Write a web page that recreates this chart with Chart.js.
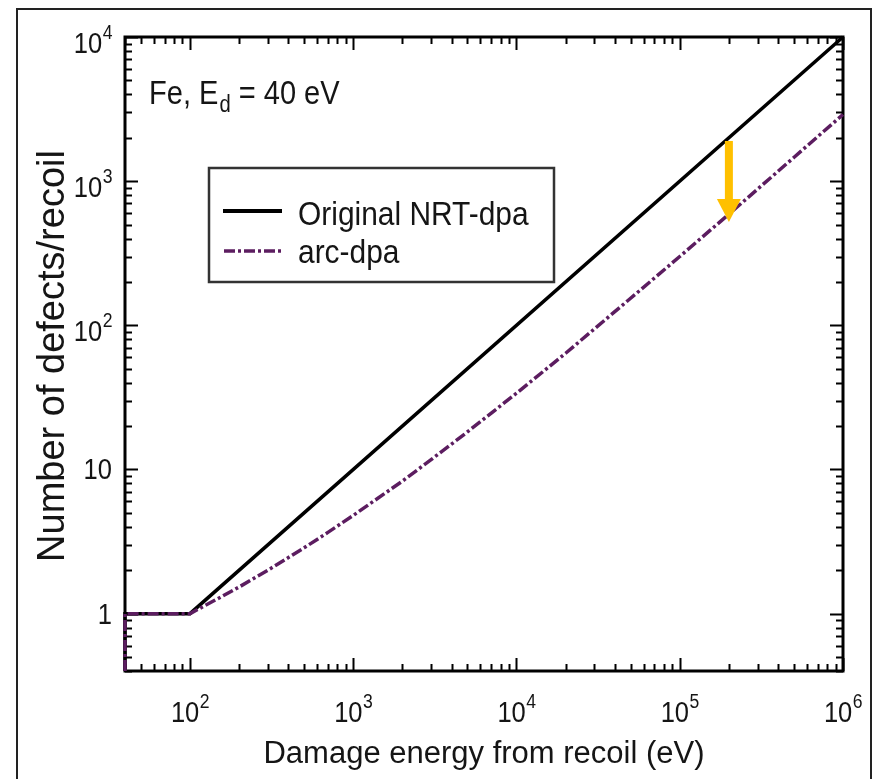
<!DOCTYPE html>
<html>
<head>
<meta charset="utf-8">
<script src="https://cdn.jsdelivr.net/npm/chart.js@4.4.1/dist/chart.umd.min.js"></script>
<style>
  html, body { margin: 0; padding: 0; background: #fff; }
  canvas { display: block; }
</style>
</head>
<body>
<canvas id="dpaChart" width="877" height="779"></canvas>
<script>
// Damage energy (eV) vs defects per recoil
const nrtEnergy = [40, 40, 100, 1e6];
const nrtDefects = [0.4, 1, 1, 10000];

const arcEnergy = [40, 40, 100, 150, 200, 300, 500, 700, 1000, 2000, 3000, 5000, 1e4, 2e4, 5e4, 1e5, 2e5, 5e5, 1e6];
const arcDefects = [0.4, 1, 1, 1.28, 1.53, 2.0, 2.86, 3.66, 4.8, 8.3, 11.7, 18.2, 33.8, 64, 154, 300, 590, 1460, 2900];

// Tick labels, drawn as base + superscript
const xTickValues = [1e2, 1e3, 1e4, 1e5, 1e6];
const xTickBase = ['10', '10', '10', '10', '10'];
const xTickSup = ['2', '3', '4', '5', '6'];
const yTickValues = [1, 10, 100, 1000, 10000];
const yTickBase = ['1', '10', '10', '10', '10'];
const yTickSup = ['', '', '2', '3', '4'];

// Arrow from the NRT line down to arc-dpa
const arrowEnergy = 2e5;
const arrowFrom = 1900;
const arrowTo = 520;

const FONT = "'Liberation Sans', Arial, sans-serif";
const TEXT = '#151515';
const ARC_COLOR = '#5c1d60';
const ARC_DASH = [11, 3, 3, 3];
const SQUEEZE = 0.88;   // narrow lettering used for labels

function toPoints(xs, ys) {
    return xs.map((x, i) => ({ x: x, y: ys[i] }));
}

// Horizontally squeezed text; returns drawn width
function squeezedText(ctx, text, x, y, size) {
    ctx.font = size + 'px ' + FONT;
    const w = ctx.measureText(text).width * SQUEEZE;
    ctx.save();
    ctx.translate(x, y);
    ctx.scale(SQUEEZE, 1);
    ctx.textAlign = 'left';
    ctx.textBaseline = 'alphabetic';
    ctx.fillText(text, 0, 0);
    ctx.restore();
    return w;
}

function textWidth(ctx, text, size) {
    ctx.font = size + 'px ' + FONT;
    return ctx.measureText(text).width * SQUEEZE;
}

// Label like 10^3 with a raised exponent
function drawPowerLabel(ctx, base, sup, x, baseline, align) {
    const wb = textWidth(ctx, base, 29);
    const ws = sup ? textWidth(ctx, sup, 20) : 0;
    const total = wb + ws;
    const start = align === 'right' ? x - total : x - total / 2;
    ctx.fillStyle = TEXT;
    squeezedText(ctx, base, start, baseline, 29);
    if (sup) squeezedText(ctx, sup, start + wb + 0.5, baseline - 14, 20);
}

// Frame and inward ticks on all four sides
const axesFrame = {
    id: 'axesFrame',
    beforeDatasetsDraw(chart) {
        const { ctx, chartArea: a, scales } = chart;
        const xs = scales.x, ys = scales.y;
        ctx.save();

        // outer border of the figure
        ctx.strokeStyle = '#222';
        ctx.lineWidth = 2;
        ctx.strokeRect(17, 9, 854, 820);

        ctx.strokeStyle = '#000';
        ctx.lineWidth = 2;
        ctx.beginPath();
        for (let d = 1; d <= 6; d++) {
            for (let m = 1; m <= 9; m++) {
                const v = m * Math.pow(10, d);
                if (v < xs.min || v > xs.max) continue;
                const px = Math.round(xs.getPixelForValue(v)) + 0.5;
                const len = m === 1 ? 13 : 7;
                ctx.moveTo(px, a.bottom); ctx.lineTo(px, a.bottom - len);
                ctx.moveTo(px, a.top); ctx.lineTo(px, a.top + len);
            }
        }
        for (let d = -1; d <= 4; d++) {
            for (let m = 1; m <= 9; m++) {
                const v = m * Math.pow(10, d);
                if (v < ys.min || v > ys.max) continue;
                const py = Math.round(ys.getPixelForValue(v)) + 0.5;
                const len = m === 1 ? 13 : 7;
                ctx.moveTo(a.left, py); ctx.lineTo(a.left + len, py);
                ctx.moveTo(a.right, py); ctx.lineTo(a.right - len, py);
            }
        }
        ctx.stroke();

        ctx.lineWidth = 3;
        ctx.strokeRect(a.left, a.top, a.right - a.left, a.bottom - a.top);

        // tick labels
        xTickValues.forEach((v, i) => {
            drawPowerLabel(ctx, xTickBase[i], xTickSup[i], xs.getPixelForValue(v), 722, 'center');
        });
        yTickValues.forEach((v, i) => {
            const py = ys.getPixelForValue(v);
            drawPowerLabel(ctx, yTickBase[i], yTickSup[i], 112, py + (yTickSup[i] ? 16 : 10), 'right');
        });

        // axis titles
        ctx.fillStyle = TEXT;
        ctx.textAlign = 'center';
        ctx.textBaseline = 'alphabetic';
        ctx.font = '31px ' + FONT;
        ctx.fillText('Damage energy from recoil (eV)', (a.left + a.right) / 2, 763);

        ctx.save();
        ctx.translate(64, (a.top + a.bottom) / 2 + 2);
        ctx.rotate(-Math.PI / 2);
        ctx.font = '38px ' + FONT;
        ctx.fillText('Number of defects/recoil', 0, 0);
        ctx.restore();

        ctx.restore();
    },
    afterDatasetsDraw(chart) {
        const { ctx, scales } = chart;
        const xs = scales.x, ys = scales.y;
        ctx.save();

        // material label
        ctx.fillStyle = TEXT;
        let tx = 149;
        tx += squeezedText(ctx, 'Fe, E', tx, 104, 33);
        tx += squeezedText(ctx, 'd', tx + 1, 112, 23) + 1;
        squeezedText(ctx, ' = 40 eV', tx, 104, 33);

        // legend box
        ctx.fillStyle = '#fff';
        ctx.fillRect(209, 168, 345, 114);
        ctx.strokeStyle = '#333';
        ctx.lineWidth = 2.5;
        ctx.strokeRect(209, 168, 345, 114);

        ctx.strokeStyle = '#000';
        ctx.lineWidth = 4;
        ctx.beginPath();
        ctx.moveTo(223, 211); ctx.lineTo(282, 211);
        ctx.stroke();

        ctx.strokeStyle = ARC_COLOR;
        ctx.lineWidth = 3.5;
        ctx.setLineDash(ARC_DASH);
        ctx.beginPath();
        ctx.moveTo(224, 251); ctx.lineTo(282, 251);
        ctx.stroke();
        ctx.setLineDash([]);

        ctx.fillStyle = TEXT;
        squeezedText(ctx, 'Original NRT-dpa', 298, 225, 34);
        squeezedText(ctx, 'arc-dpa', 298, 263, 34);

        // arrow
        const ax = xs.getPixelForValue(arrowEnergy);
        const ay1 = ys.getPixelForValue(arrowFrom);
        const ay2 = ys.getPixelForValue(arrowTo);
        ctx.fillStyle = '#ffc000';
        ctx.fillRect(ax - 4, ay1, 8, ay2 - ay1 - 22);
        ctx.beginPath();
        ctx.moveTo(ax - 12, ay2 - 23);
        ctx.lineTo(ax + 12, ay2 - 23);
        ctx.lineTo(ax, ay2);
        ctx.closePath();
        ctx.fill();

        ctx.restore();
    }
};

new Chart(document.getElementById('dpaChart'), {
    type: 'line',
    data: {
        datasets: [
            {
                label: 'arc-dpa',
                data: toPoints(arcEnergy, arcDefects),
                borderColor: ARC_COLOR,
                borderWidth: 3.5,
                borderDash: ARC_DASH,
                pointRadius: 0,
                tension: 0,
                clip: false,
                order: 1
            },
            {
                label: 'Original NRT-dpa',
                data: toPoints(nrtEnergy, nrtDefects),
                borderColor: '#000',
                borderWidth: 3.5,
                pointRadius: 0,
                tension: 0,
                clip: false,
                order: 2
            }
        ]
    },
    options: {
        responsive: false,
        devicePixelRatio: 1,
        animation: false,
        layout: { padding: { left: 125, top: 37, right: 34, bottom: 108 } },
        scales: {
            x: { type: 'logarithmic', min: 40, max: 1e6, display: false },
            y: { type: 'logarithmic', min: 0.4, max: 1e4, display: false }
        },
        plugins: {
            legend: { display: false },
            tooltip: { enabled: false }
        }
    },
    plugins: [axesFrame]
});
</script>
</body>
</html>
